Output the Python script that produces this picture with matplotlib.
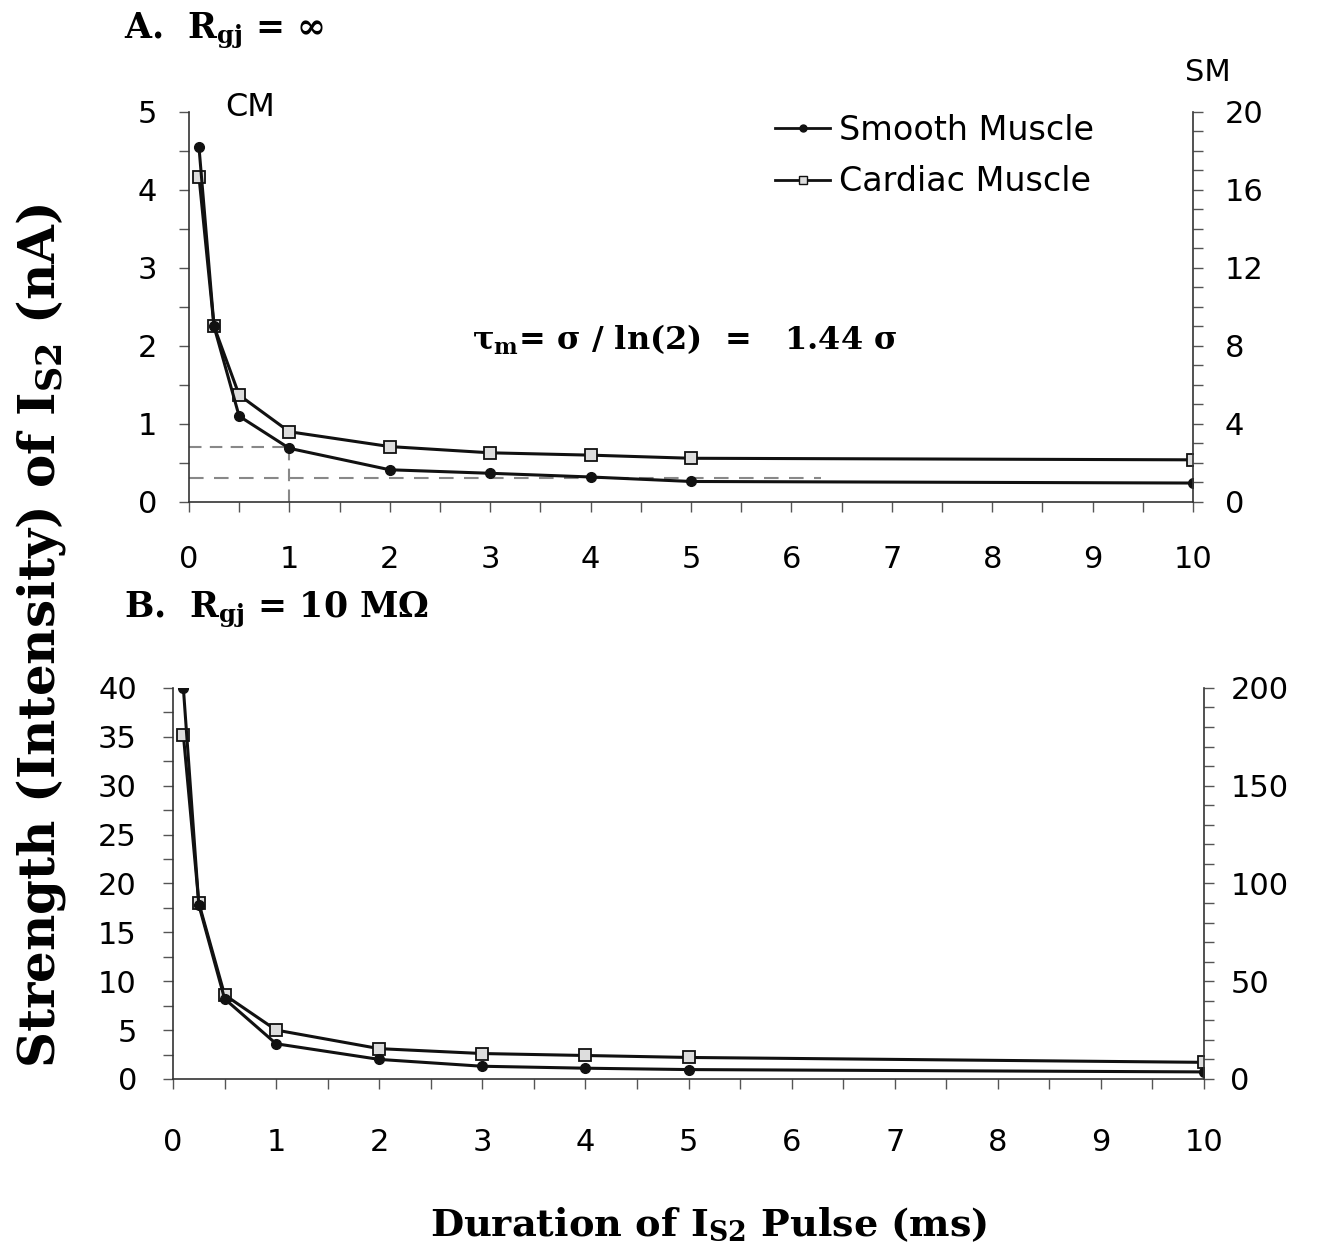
import matplotlib
matplotlib.use("Agg")
import matplotlib.pyplot as plt
from matplotlib.ticker import MultipleLocator
from matplotlib.lines import Line2D

plt.rcParams['font.family'] = ['DejaVu Sans']
plt.rcParams['mathtext.fontset'] = 'custom'
plt.rcParams['mathtext.rm'] = 'DejaVu Serif'
plt.rcParams['mathtext.bf'] = 'DejaVu Serif:bold'
plt.rcParams['mathtext.it'] = 'DejaVu Serif:italic'

# ---- data ----
duration = [0.1, 0.25, 0.5, 1, 2, 3, 4, 5, 10]
a_cardiac = [4.17, 2.25, 1.37, 0.90, 0.71, 0.63, 0.60, 0.56, 0.54]   # left axis (CM)
a_smooth = [18.2, 9.0, 4.4, 2.75, 1.65, 1.47, 1.28, 1.05, 0.97]      # right axis (SM)
b_cardiac = [35.2, 18.0, 8.6, 5.0, 3.1, 2.6, 2.4, 2.2, 1.7]          # left axis
b_smooth = [200, 89, 41, 18, 10, 6.5, 5.5, 4.8, 3.6]                 # right axis

x_ticks = list(range(0, 11))
a_left_ticks = [0, 1, 2, 3, 4, 5]
a_right_ticks = [0, 4, 8, 12, 16, 20]
b_left_ticks = [0, 5, 10, 15, 20, 25, 30, 35, 40]
b_right_ticks = [0, 50, 100, 150, 200]

# reference (dashed) lines in panel A, left-axis units
chronaxie = 1.0
upper_ref = 0.71
lower_ref = 0.31
lower_ref_end = 6.3

fig = plt.figure(figsize=(13.24, 12.53), dpi=100)

serif_bold = dict(family='DejaVu Serif', fontweight='bold')
LC = '#111111'
TICKC = '#555555'
TS = 22

def style_axes(ax, ax2, ylim_l, ylim_r, lt, rt, lminor, rminor, lpad, rpad, xpad):
    ax.set_xlim(0, 10)
    ax.set_ylim(*ylim_l)
    ax2.set_ylim(*ylim_r)
    ax.set_xticks(x_ticks)
    ax.xaxis.set_minor_locator(MultipleLocator(0.5))
    ax.set_yticks(lt)
    ax.yaxis.set_minor_locator(MultipleLocator(lminor))
    ax2.set_yticks(rt)
    ax2.yaxis.set_minor_locator(MultipleLocator(rminor))
    for a in (ax, ax2):
        a.spines['top'].set_visible(False)
        for s in a.spines.values():
            s.set_color('#333333')
            s.set_linewidth(1.2)
    ax.spines['right'].set_visible(False)
    ax2.spines['left'].set_visible(False)
    ax2.spines['bottom'].set_visible(False)
    ax.tick_params(axis='x', which='both', direction='out', length=7, width=1,
                   color=TICKC, labelsize=TS, pad=xpad)
    ax.tick_params(axis='y', which='both', direction='out', length=7, width=1,
                   color=TICKC, labelsize=TS, pad=lpad)
    ax2.tick_params(axis='y', which='both', direction='out', length=7, width=1,
                    color=TICKC, labelsize=TS, pad=rpad)
    ax.patch.set_visible(False)

# ---------- Panel A ----------
axA = fig.add_axes([0.1427, 0.5994, 0.7583, 0.3113])
axA2 = axA.twinx()
style_axes(axA, axA2, (0, 5), (0, 20), a_left_ticks, a_right_ticks, 0.5, 1,
           lpad=16, rpad=16, xpad=24)

axA.plot([0, chronaxie], [upper_ref, upper_ref], ls=(0, (6, 4)), color='#888888', lw=1.5)
axA.plot([chronaxie, chronaxie], [0, upper_ref], ls=(0, (6, 4)), color='#888888', lw=1.5)
axA.plot([0, lower_ref_end], [lower_ref, lower_ref], ls=(0, (7, 5)), color='#888888', lw=1.5)

axA.plot(duration, a_cardiac, color=LC, lw=2.2, marker='s', ms=8, mfc='#dddddd', mec=LC, mew=1.3)
axA2.plot(duration, a_smooth, color=LC, lw=2.2, marker='o', ms=7, mfc=LC, mec=LC)

axA.text(0.36, 5.05, 'CM', fontsize=23, ha='left', va='center')
axA2.text(10.15, 22.0, 'SM', fontsize=22, ha='center', va='center')
axA.text(2.82, 2.08, 'τ$_{\\mathbf{m}}$= σ / ln(2)  =   1.44 σ', fontsize=23,
         ha='left', va='center', **serif_bold)

handles = [Line2D([], [], color=LC, lw=2, marker='o', ms=5, mfc=LC, mec=LC),
           Line2D([], [], color=LC, lw=2, marker='s', ms=6, mfc='#dddddd', mec=LC)]
axA.legend(handles, ['Smooth Muscle', 'Cardiac Muscle'], loc='upper left',
           bbox_to_anchor=(0.584, 0.995), frameon=False, fontsize=24,
           handlelength=1.65, handletextpad=0.25, labelspacing=0.55,
           borderpad=0, borderaxespad=0)

fig.text(0.094, 0.975, 'A.  $\\mathbf{R_{gj}}$ = ∞', fontsize=25, ha='left', va='center',
         **serif_bold)

# ---------- Panel B ----------
axB = fig.add_axes([0.1307, 0.1389, 0.7787, 0.3121])
axB2 = axB.twinx()
style_axes(axB, axB2, (0, 40), (0, 200), b_left_ticks, b_right_ticks, 2.5, 10,
           lpad=19, rpad=12, xpad=28)

axB.plot(duration, b_cardiac, color=LC, lw=2.2, marker='s', ms=8, mfc='#dddddd', mec=LC, mew=1.3)
axB2.plot(duration, b_smooth, color=LC, lw=2.2, marker='o', ms=7, mfc=LC, mec=LC)

fig.text(0.094, 0.513, 'B.  $\\mathbf{R_{gj}}$ = 10 MΩ', fontsize=25, ha='left', va='center',
         **serif_bold)

# shared labels
fig.text(0.031, 0.493, 'Strength (Intensity) of $\\mathbf{I_{S2}}$ (nA)', rotation=90,
         fontsize=36, ha='center', va='center', **serif_bold)
fig.text(0.535, 0.022, 'Duration of $\\mathbf{I_{S2}}$ Pulse (ms)', fontsize=27.5,
         ha='center', va='center', **serif_bold)

fig.savefig('out.png', dpi=100, facecolor='white')
